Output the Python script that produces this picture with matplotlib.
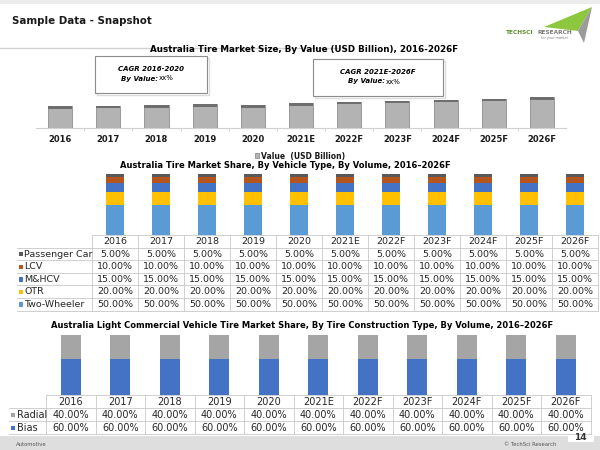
import matplotlib
matplotlib.use("Agg")
import matplotlib.pyplot as plt
from matplotlib.patches import Rectangle, Polygon
import numpy as np

# ---------------- data ----------------
years = ["2016", "2017", "2018", "2019", "2020", "2021E", "2022F", "2023F", "2024F", "2025F", "2026F"]
market_value = [2.16, 2.23, 2.30, 2.40, 2.30, 2.50, 2.63, 2.73, 2.83, 2.93, 3.10]

vehicle_types = ["Passenger Car", "LCV", "M&HCV", "OTR", "Two-Wheeler"]
share_passenger_car = [5.0] * 11
share_lcv = [10.0] * 11
share_mhcv = [15.0] * 11
share_otr = [20.0] * 11
share_two_wheeler = [50.0] * 11

construction_types = ["Radial", "Bias"]
share_radial = [40.0] * 11
share_bias = [60.0] * 11

# ---------------- styles ----------------
C_PC = "#595959"
C_LCV = "#B4561E"
C_MHCV = "#4472C4"
C_OTR = "#FFC000"
C_TW = "#5B9BD5"
C_RAD = "#A5A5A5"
C_BIAS = "#4472C4"
GRID = "#c8c8c8"
TXT = "#262626"

W, H = 600, 450
fig = plt.figure(figsize=(6, 4.5), dpi=100)
fig.patch.set_facecolor("white")


def rect(x0, y0, x1, y1):
    return [x0 / W, 1 - y1 / H, (x1 - x0) / W, (y1 - y0) / H]


bg = fig.add_axes([0, 0, 1, 1])
bg.set_xlim(0, W)
bg.set_ylim(H, 0)
bg.axis("off")

# header
bg.add_patch(Rectangle((0, 0), W, 4, color="#ececec", lw=0))
bg.text(12, 21, "Sample Data - Snapshot", fontsize=7.4, fontweight="bold", color="#1a1a1a",
        va="center", ha="left")
bg.plot([0, 338], [48, 48], color="#d0d0d0", lw=1)

# logo
bg.add_patch(Polygon([(544, 27), (592, 7), (578, 31)], closed=True, color="#8dc63f", lw=0))
bg.add_patch(Polygon([(578, 31), (592, 7), (584, 43)], closed=True, color="#9b9b9b", lw=0))
bg.text(506, 32, "TECHSCI", fontsize=4.2, color="#5f8f2f", fontweight="bold", va="center", ha="left")
bg.text(538, 32, "RESEARCH", fontsize=4.2, color="#7a7a7a", fontweight="bold", va="center", ha="left")
bg.text(541, 38.5, "for your market", fontsize=2.4, color="#7a7a7a", style="italic", va="center", ha="left")

# ---------------- chart 1 ----------------
bg.text(304, 50, "Australia Tire Market Size, By Value (USD Billion), 2016-2026F", fontsize=6.3,
        fontweight="bold", color="#000000", ha="center", va="center")

for (x0, y0, x1, y1, l1) in [(95, 56, 207, 93, "CAGR 2016-2020"),
                             (313, 59, 443, 96, "CAGR 2021E-2026F")]:
    bg.add_patch(Rectangle((x0 + 1.5, y0 + 1.5), x1 - x0, y1 - y0, fill=False, ec="#dcdcdc", lw=1))
    bg.add_patch(Rectangle((x0, y0), x1 - x0, y1 - y0, fc="white", ec="#8c8c8c", lw=0.8))
    cx = (x0 + x1) / 2
    cy = (y0 + y1) / 2
    bg.text(cx, cy - 5.5, l1, fontsize=5, fontweight="bold", style="italic", ha="center", va="center",
            color="#000000")
    bg.text(cx + 7, cy + 4, "By Value:", fontsize=5, fontweight="bold", style="italic", ha="right",
            va="center", color="#000000")
    bg.text(cx + 8, cy + 4, "xx%", fontsize=5, ha="left", va="center", color="#000000")

ax1 = fig.add_axes(rect(36, 93, 566, 128))
ax1.patch.set_alpha(0)
x = np.arange(len(years))
vals = np.array(market_value)
cap = 0.25
b1 = ax1.bar(x, vals, width=0.5, color="#b3b3b3", edgecolor="#8f8f8f", lw=0.6,
             label="Value  (USD Billion)")
ax1.bar(x, np.full_like(vals, cap), bottom=vals - cap, width=0.5, color="#6e6e6e", lw=0)
ax1.set_xlim(-0.5, len(years) - 0.5)
ax1.set_ylim(0, 3.5)
ax1.set_yticks([])
for s in ["top", "left", "right"]:
    ax1.spines[s].set_visible(False)
ax1.spines["bottom"].set_color("#d0d0d0")
ax1.spines["bottom"].set_linewidth(0.8)
ax1.set_xticks(x)
ax1.set_xticklabels(years, fontsize=6, fontweight="bold", color="#1a1a1a")
ax1.tick_params(axis="x", which="major", length=0, pad=5)
ax1.set_xticks(x[:-1] + 0.5, minor=True)
ax1.tick_params(axis="x", which="minor", length=2, color="#d0d0d0", width=0.6)
fig.legend(handles=[b1], labels=["Value  (USD Billion)"], loc="center",
           bbox_to_anchor=(300 / W, 1 - 156 / H), frameon=False,
           prop={"weight": "bold", "size": 5.5}, handlelength=0.55, handleheight=0.55,
           handletextpad=0.3, labelcolor="#1a1a1a")

# ---------------- chart 2 ----------------
bg.text(285, 166, "Australia Tire Market Share, By Vehicle Type, By Volume, 2016\u20132026F", fontsize=6,
        fontweight="bold", color="#000000", ha="center", va="center")

T1_X0, T1_CW, T1_Y0, T1_RH = 92, 46, 235, 12.6
ax2 = fig.add_axes(rect(T1_X0, 174, T1_X0 + 11 * T1_CW, T1_Y0))
ax2.patch.set_alpha(0)
series2 = [("Two-Wheeler", share_two_wheeler, C_TW), ("OTR", share_otr, C_OTR),
           ("M&HCV", share_mhcv, C_MHCV), ("LCV", share_lcv, C_LCV),
           ("Passenger Car", share_passenger_car, C_PC)]
bottom = np.zeros(len(years))
for name, v, c in series2:
    ax2.bar(x, v, bottom=bottom, width=0.4, color=c, lw=0)
    bottom += np.array(v)
ax2.set_xlim(-0.5, len(years) - 0.5)
ax2.set_ylim(0, 100)
ax2.axis("off")


def draw_table(x0, cw, y0, rh, labx0, header, rows, fs):
    n = len(header)
    x1 = x0 + n * cw
    nr = len(rows)
    yend = y0 + rh * (nr + 1)
    lk = dict(color=GRID, lw=0.6)
    bg.plot([x0, x1], [y0, y0], **lk)
    for r in range(1, nr + 2):
        bg.plot([labx0, x1], [y0 + r * rh] * 2, **lk)
    for c in range(n + 1):
        bg.plot([x0 + c * cw] * 2, [y0, yend], **lk)
    for c, hd in enumerate(header):
        bg.text(x0 + (c + 0.5) * cw, y0 + rh / 2 + 0.3, hd, fontsize=fs, ha="center", va="center",
                color=TXT)
    for r, (lab, col, vals_) in enumerate(rows):
        yc = y0 + (r + 1.5) * rh + 0.3
        bg.add_patch(Rectangle((labx0 + 1.5, yc - 2.2), 4.4, 4.4, color=col, lw=0))
        bg.text(labx0 + 7.5, yc, lab, fontsize=fs, ha="left", va="center", color=TXT)
        for c, v in enumerate(vals_):
            bg.text(x0 + (c + 0.5) * cw, yc, f"{v:.2f}%", fontsize=fs, ha="center", va="center",
                    color=TXT)


draw_table(T1_X0, T1_CW, T1_Y0, T1_RH, 17, years,
           [("Passenger Car", C_PC, share_passenger_car), ("LCV", C_LCV, share_lcv),
            ("M&HCV", C_MHCV, share_mhcv), ("OTR", C_OTR, share_otr),
            ("Two-Wheeler", C_TW, share_two_wheeler)], 6.8)

# ---------------- chart 3 ----------------
bg.text(302, 325, "Australia Light Commercial Vehicle Tire Market Share, By Tire Construction Type, By Volume, 2016\u20132026F",
        fontsize=6, fontweight="bold", color="#000000", ha="center", va="center")

T3_X0, T3_CW, T3_Y0, T3_RH = 46, 49.5, 395, 13
ax3 = fig.add_axes(rect(T3_X0, 335, T3_X0 + 11 * T3_CW, T3_Y0))
ax3.patch.set_alpha(0)
ax3.bar(x, share_bias, width=0.4, color=C_BIAS, lw=0)
ax3.bar(x, share_radial, bottom=share_bias, width=0.4, color=C_RAD, lw=0)
ax3.set_xlim(-0.5, len(years) - 0.5)
ax3.set_ylim(0, 100)
ax3.axis("off")

draw_table(T3_X0, T3_CW, T3_Y0, T3_RH, 9, years,
           [("Radial", C_RAD, share_radial), ("Bias", C_BIAS, share_bias)], 7)

# ---------------- footer ----------------
bg.add_patch(Rectangle((0, 436), W, 14, color="#dedede", lw=0))
bg.add_patch(Rectangle((568, 428), 26, 14, color="white", lw=0))
bg.text(16, 444, "Automotive", fontsize=3.8, color="#555555", ha="left", va="center")
bg.text(556, 444, "\u00a9 TechSci Research", fontsize=3.8, color="#555555", ha="right", va="center")
bg.text(580, 437, "14", fontsize=6.5, fontweight="bold", color="#333333", ha="center", va="center")

fig.savefig("out.png", dpi=100)
